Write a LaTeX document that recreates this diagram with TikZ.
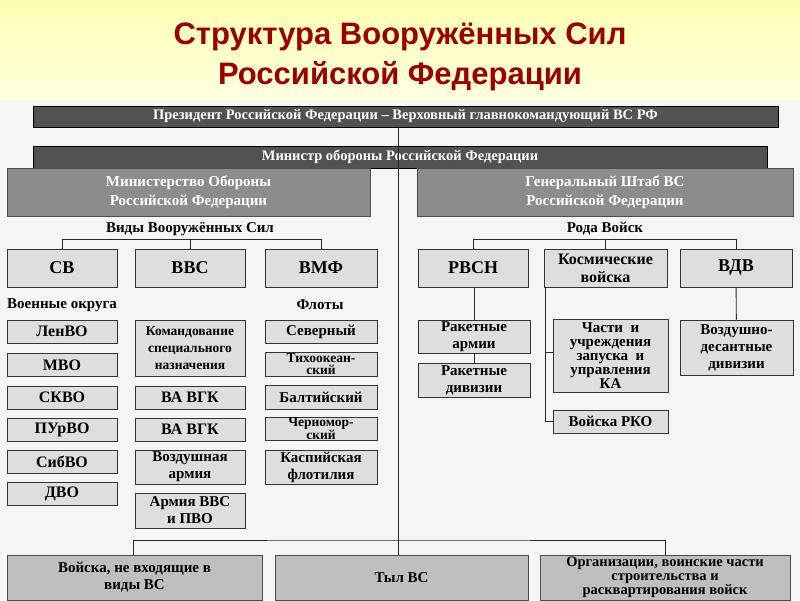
\documentclass[tikz,border=0pt]{standalone}
\usepackage{fontspec}
\setmainfont{Liberation Serif}
\newfontfamily\titlefont{Liberation Sans}
\begin{document}
\begin{tikzpicture}[x=1pt,y=-1pt,
  dk/.style={draw=black,line width=1pt,fill=black!68,text=white,font=\bfseries\fontsize{14.5}{15}\selectfont,inner sep=0pt,align=center},
  md/.style={draw=black!70,line width=1pt,fill=black!45,text=white,font=\bfseries\fontsize{15}{19}\selectfont,inner sep=0pt,align=center},
  bx/.style={draw=black!80,line width=1pt,fill=black!13,font=\bfseries\fontsize{15}{17}\selectfont,inner sep=0pt,align=center},
  bb/.style={draw=black!80,line width=1pt,fill=black!13,font=\bfseries\fontsize{18}{19}\selectfont,inner sep=0pt,align=center},
  lb/.style={font=\bfseries\fontsize{15}{16}\selectfont,inner sep=0pt},
  ln/.style={line width=0.9pt,black!85}]
\useasboundingbox (0,0) rectangle (800,600);
\fill[top color=yellow!30!white,bottom color=yellow!12!white] (0,0) rectangle (800,100);
\fill[black!4] (0,100) rectangle (800,600);
\node[text=red!60!black,font=\titlefont\bfseries\fontsize{31}{40}\selectfont,align=center] (title) at (400,57) {Структура Вооружённых Сил\\Российской Федерации};
% top
\node[dk,minimum width=745,minimum height=21] (pres) at (405.5,116.5) {Президент Российской Федерации -- Верховный главнокомандующий ВС РФ};
\node[dk,minimum width=734,minimum height=22] (min) at (400,157) {Министр обороны Российской Федерации};
\node[md,minimum width=363,minimum height=48] (mo) at (188.5,192) {Министерство Обороны\\Российской Федерации};
\node[md,minimum width=376,minimum height=48] (gs) at (605,192) {Генеральный Штаб ВС\\Российской Федерации};
\coordinate (cb) at (398,540);
\coordinate (ct) at (398,127);
\node[lb] (vvs) at (190,229) {Виды Вооружённых Сил};
\node[lb] (rv) at (605,229) {Рода Войск};
% row
\node[bb,minimum width=110,minimum height=38] (sv) at (62,268) {СВ};
\node[bb,minimum width=110,minimum height=38] (vvsb) at (190,268) {ВВС};
\node[bb,minimum width=112,minimum height=38] (vmf) at (321,268) {ВМФ};
\node[bb,minimum width=110,minimum height=38] (rvsn) at (473,268) {РВСН};
\node[bx,minimum width=123,minimum height=38,font=\bfseries\fontsize{16}{18}\selectfont] (kv) at (605.5,268) {Космические\\войска};
\node[bb,minimum width=112,minimum height=38] (vdv) at (736,268) {ВДВ};
\draw[ln] (ct) -- (398,555);
\draw[ln] (sv.north) -- ++(0,-9) -| (vmf.north) (vvsb.north) -- ++(0,-9);
\draw[ln] (rvsn.north) -- ++(0,-9) -| (vdv.north) (kv.north) -- ++(0,-9);
% labels
\node[lb,anchor=west] (vo) at (7,305) {Военные округа};
\node[lb] (fl) at (320,305) {Флоты};
% left column
\foreach \n/\t/\y in {a/ЛенВО/331.5,b/МВО/365,c/СКВО/397.5,d/ПУрВО/429.5,e/СибВО/461.5,f/ДВО/493.5}
  \node[bx,minimum width=110,minimum height=23,font=\bfseries\fontsize{16}{17}\selectfont] (vo\n) at (62,\y) {\t};
% middle
\node[bx,minimum width=110,minimum height=56,font=\bfseries\fontsize{13.5}{17}\selectfont] (ksn) at (190,348) {Командование\\специального\\назначения};
\node[bx,minimum width=110,minimum height=23,font=\bfseries\fontsize{16}{17}\selectfont] (va1) at (190,397.5) {ВА ВГК};
\node[bx,minimum width=110,minimum height=23,font=\bfseries\fontsize{16}{17}\selectfont] (va2) at (190,429.5) {ВА ВГК};
\node[bx,minimum width=110,minimum height=34] (va) at (190,467) {Воздушная\\армия};
\node[bx,minimum width=110,minimum height=35] (apvo) at (190,510.5) {Армия ВВС\\и ПВО};
% fleets
\node[bx,minimum width=112,minimum height=23] (fa) at (321,331.5) {Северный};
\node[bx,minimum width=112,minimum height=24,font=\bfseries\fontsize{13.5}{11.5}\selectfont] (fb) at (321,364) {Тихоокеан-\\ский};
\node[bx,minimum width=112,minimum height=24] (fc) at (321,397) {Балтийский};
\node[bx,minimum width=112,minimum height=23,font=\bfseries\fontsize{13.5}{11.5}\selectfont] (fd) at (321,428.5) {Черномор-\\ский};
\node[bx,minimum width=112,minimum height=34] (fe) at (321,467) {Каспийская\\флотилия};
% right side
\node[bx,minimum width=112,minimum height=33] (ra) at (474,336.5) {Ракетные\\армии};
\node[bx,minimum width=112,minimum height=34] (rd) at (474,380) {Ракетные\\дивизии};
\draw[ln] (rvsn.south -| ra.north) -- (ra.north);
\draw[ln] (ra) -- (rd);
\node[bx,minimum width=115,minimum height=73,font=\bfseries\fontsize{15}{14}\selectfont] (chu) at (610.5,355.5) {Части\ \ и\\учреждения\\запуска\ \ и\\управления\\КА};
\node[bx,minimum width=115,minimum height=23] (rko) at (610.5,421.5) {Войска РКО};
\coordinate (kvt) at (545,287);
\draw[ln] (kvt) |- (rko.west);
\draw[ln] (545,352) -- (chu.west |- 0,352);
\node[bx,minimum width=113,minimum height=55] (vdd) at (736.5,347.5) {Воздушно-\\десантные\\дивизии};
\draw[ln] (vdv) -- (vdd);
% bottom
\node[md,text=black,fill=black!25,minimum width=255,minimum height=45,font=\bfseries\fontsize{15}{17}\selectfont] (nv) at (134.5,577.5) {Войска, не входящие в\\виды ВС};
\node[md,text=black,fill=black!25,minimum width=253,minimum height=45,font=\bfseries\fontsize{15}{17}\selectfont] (tyl) at (401.5,577.5) {Тыл ВС};
\node[md,text=black,fill=black!25,minimum width=250,minimum height=45,font=\bfseries\fontsize{14.5}{14}\selectfont] (org) at (665,577.5) {Организации, воинские части\\строительства и\\расквартирования войск};
\draw[ln] (133,555) |- (cb) -| (org.north -| 665,0);
\end{tikzpicture}
\end{document}
